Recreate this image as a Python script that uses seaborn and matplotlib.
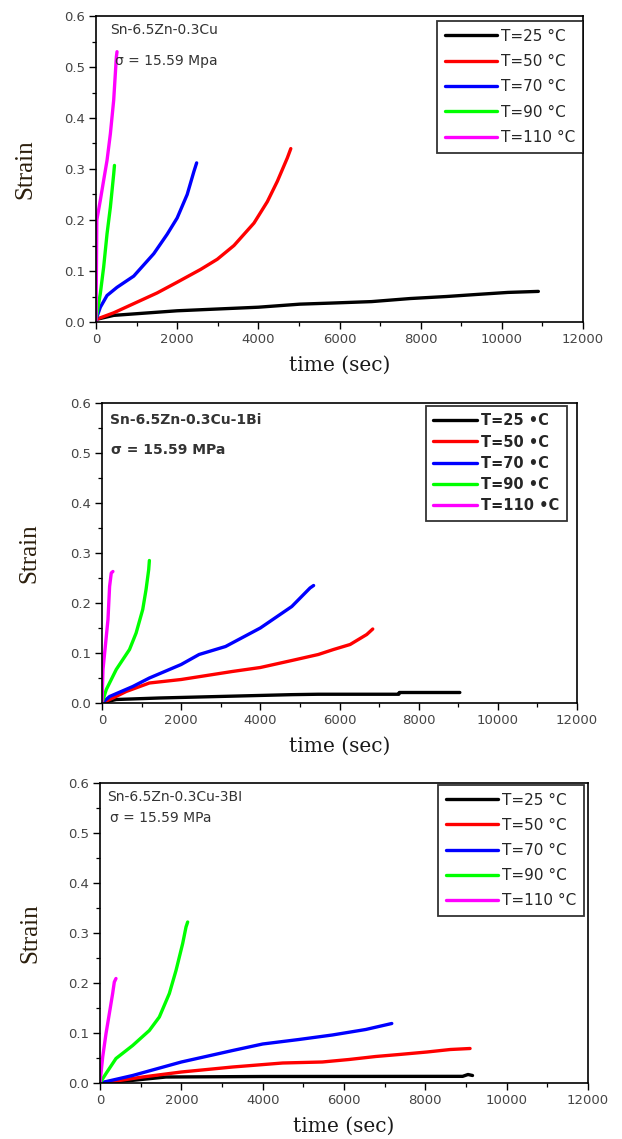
import numpy as np
import pandas as pd
import seaborn as sns
import matplotlib
matplotlib.use("Agg")
import matplotlib.pyplot as plt
from matplotlib.ticker import MultipleLocator, FormatStrFormatter

sns.set_theme(style="white")
plt.rcParams["font.family"] = ["DejaVu Sans"]

# ---- creep curves: Sn-6.5Zn-0.3Cu ----
a_25_t = [0, 436, 2000, 4000, 5025, 5760, 6790, 7740, 8640, 9380, 10150, 10900]
a_25_s = [0.005, 0.013, 0.022, 0.029, 0.035, 0.037, 0.040, 0.046, 0.050, 0.054, 0.058, 0.060]
a_50_t = [0, 65, 436, 930, 1506, 2000, 2576, 2988, 3400, 3893, 4222, 4469, 4716, 4800]
a_50_s = [0.005, 0.007, 0.018, 0.036, 0.057, 0.078, 0.103, 0.123, 0.150, 0.194, 0.236, 0.276, 0.322, 0.340]
a_70_t = [0, 107, 272, 518, 930, 1424, 1753, 2000, 2247, 2412, 2480]
a_70_s = [0.005, 0.029, 0.052, 0.068, 0.090, 0.134, 0.172, 0.204, 0.250, 0.295, 0.312]
a_90_t = [0, 107, 189, 272, 354, 436, 455]
a_90_s = [0.005, 0.056, 0.108, 0.173, 0.225, 0.290, 0.307]
a_110_t = [0, 20, 107, 189, 272, 354, 436, 502, 518]
a_110_s = [0.0, 0.200, 0.239, 0.278, 0.317, 0.369, 0.435, 0.520, 0.530]

# ---- creep curves: Sn-6.5Zn-0.3Cu-1Bi ----
b_25_t = [0, 192, 360, 1448, 4795, 5464, 7500, 7510, 9040]
b_25_s = [0, 0.004, 0.007, 0.010, 0.0167, 0.0175, 0.0175, 0.021, 0.021]
b_50_t = [0, 276, 611, 1197, 2000, 3289, 4000, 4795, 5464, 5849, 6268, 6688, 6840]
b_50_s = [0, 0.010, 0.023, 0.040, 0.047, 0.063, 0.071, 0.085, 0.097, 0.107, 0.117, 0.137, 0.148]
b_70_t = [0, 192, 778, 1197, 2000, 2452, 3121, 4000, 4795, 5255, 5346]
b_70_s = [0, 0.013, 0.033, 0.050, 0.077, 0.097, 0.113, 0.150, 0.193, 0.230, 0.235]
b_90_t = [0, 109, 360, 695, 862, 1029, 1113, 1180, 1197]
b_90_s = [0, 0.027, 0.067, 0.107, 0.140, 0.187, 0.227, 0.267, 0.285]
b_110_t = [0, 25, 67, 151, 192, 234, 276]
b_110_s = [0, 0.067, 0.100, 0.167, 0.233, 0.260, 0.263]

# ---- creep curves: Sn-6.5Zn-0.3Cu-3Bi ----
c_25_t = [0, 393, 803, 1623, 4000, 8917, 9050, 9160]
c_25_s = [0, 0.003, 0.0053, 0.012, 0.013, 0.0133, 0.017, 0.015]
c_50_t = [0, 393, 1049, 2000, 3262, 4492, 5466, 6123, 6780, 7356, 8041, 8615, 9100]
c_50_s = [0, 0.004, 0.012, 0.022, 0.032, 0.040, 0.042, 0.047, 0.053, 0.057, 0.062, 0.067, 0.069]
c_70_t = [0, 803, 2000, 3262, 4000, 4891, 5712, 6534, 7175]
c_70_s = [0, 0.015, 0.042, 0.065, 0.078, 0.087, 0.096, 0.107, 0.119]
c_90_t = [0, 148, 393, 803, 1213, 1459, 1705, 1869, 2033, 2115, 2156]
c_90_s = [0, 0.019, 0.049, 0.075, 0.105, 0.132, 0.179, 0.225, 0.279, 0.312, 0.322]
c_110_t = [0, 66, 148, 230, 311, 352, 393]
c_110_s = [0, 0.052, 0.099, 0.139, 0.179, 0.202, 0.209]

temps = [25, 50, 70, 90, 110]
colors = ["#000000", "#ff0000", "#0000ff", "#00ff00", "#ff00ff"]

alloys = ["Sn-6.5Zn-0.3Cu", "Sn-6.5Zn-0.3Cu-1Bi", "Sn-6.5Zn-0.3Cu-3BI"]
stress_labels = ["σ = 15.59 Mpa", "σ = 15.59 MPa", "σ = 15.59 MPa"]
legend_fmt = ["T=%d °C", "T=%d •C", "T=%d °C"]

panels = [
    [(a_25_t, a_25_s), (a_50_t, a_50_s), (a_70_t, a_70_s), (a_90_t, a_90_s), (a_110_t, a_110_s)],
    [(b_25_t, b_25_s), (b_50_t, b_50_s), (b_70_t, b_70_s), (b_90_t, b_90_s), (b_110_t, b_110_s)],
    [(c_25_t, c_25_s), (c_50_t, c_50_s), (c_70_t, c_70_s), (c_90_t, c_90_s), (c_110_t, c_110_s)],
]

W, H = 622, 1139
fig = plt.figure(figsize=(W / 100, H / 100), dpi=100)
fig.patch.set_facecolor("white")

# axes boxes in pixels: left, top, right, bottom
boxes = [(96, 16, 583, 322), (102, 403, 577, 703), (100, 783, 588, 1083)]
legend_anchor = [(1.0, 0.984), (0.979, 0.99), (0.992, 0.993)]
legend_spacing = [0.68, 0.43, 0.66]
legend_size = [11, 10.5, 11]
legend_handle = [3.4, 3.0, 3.4]
ylabel_pad = [20, 21, 19]
text_pos = [((0.029, 0.955), (0.039, 0.852)),
            ((0.017, 0.943), (0.019, 0.843)),
            ((0.014, 0.953), (0.020, 0.883))]

for i, series in enumerate(panels):
    l, t, r, b = boxes[i]
    ax = fig.add_axes([l / W, 1 - b / H, (r - l) / W, (b - t) / H])

    rows = []
    for temp, (ts, ss) in zip(temps, series):
        lab = legend_fmt[i] % temp
        for k, (x, y) in enumerate(zip(ts, ss)):
            rows.append({"time": x, "strain": y, "T": lab, "order": k})
    df = pd.DataFrame(rows)
    labels = [legend_fmt[i] % tt for tt in temps]
    sns.lineplot(data=df, x="time", y="strain", hue="T", hue_order=labels,
                 palette=dict(zip(labels, colors)), sort=False, estimator=None,
                 linewidth=2.4, ax=ax)

    ax.set_xlim(0, 12000)
    ax.set_ylim(0, 0.6)
    ax.xaxis.set_major_locator(MultipleLocator(2000))
    ax.xaxis.set_minor_locator(MultipleLocator(1000))
    ax.yaxis.set_major_locator(MultipleLocator(0.1))
    ax.yaxis.set_minor_locator(MultipleLocator(0.05))
    ax.yaxis.set_major_formatter(FormatStrFormatter("%.1f"))
    ax.tick_params(which="major", direction="out", length=5, width=1.0,
                   colors="black", labelcolor="#444444", labelsize=9.5,
                   bottom=True, left=True, top=False, right=False, pad=3)
    ax.tick_params(which="minor", direction="out", length=3, width=0.9,
                   colors="black", bottom=True, left=True, top=False, right=False)
    for sp in ax.spines.values():
        sp.set_color("black")
        sp.set_linewidth(1.2)
    ax.grid(False)

    ax.set_xlabel("time (sec)", family="DejaVu Serif", fontsize=14.5,
                  color="#1a1a1a", labelpad=7)
    ax.set_ylabel("Strain", family="Liberation Serif", fontsize=18,
                  color="#2b1e0c", labelpad=ylabel_pad[i])

    weight = "bold" if i == 1 else "normal"
    (x1, y1), (x2, y2) = text_pos[i]
    ax.text(x1, y1, alloys[i], transform=ax.transAxes, fontsize=10,
            color="#333333", ha="left", va="center", weight=weight)
    ax.text(x2, y2, stress_labels[i], transform=ax.transAxes, fontsize=10,
            color="#333333", ha="left", va="center", weight=weight)

    leg = ax.legend(loc="upper right", bbox_to_anchor=legend_anchor[i],
                    borderaxespad=0, frameon=True, fancybox=False,
                    handlelength=legend_handle[i], handletextpad=0.3,
                    labelspacing=legend_spacing[i], borderpad=0.5,
                    prop={"family": "DejaVu Sans", "size": legend_size[i],
                          "weight": weight})
    leg.get_frame().set_edgecolor("black")
    leg.get_frame().set_linewidth(1.3)
    for ln in leg.get_lines():
        ln.set_linewidth(2.4)

fig.savefig("out.png", dpi=100, facecolor="white")
